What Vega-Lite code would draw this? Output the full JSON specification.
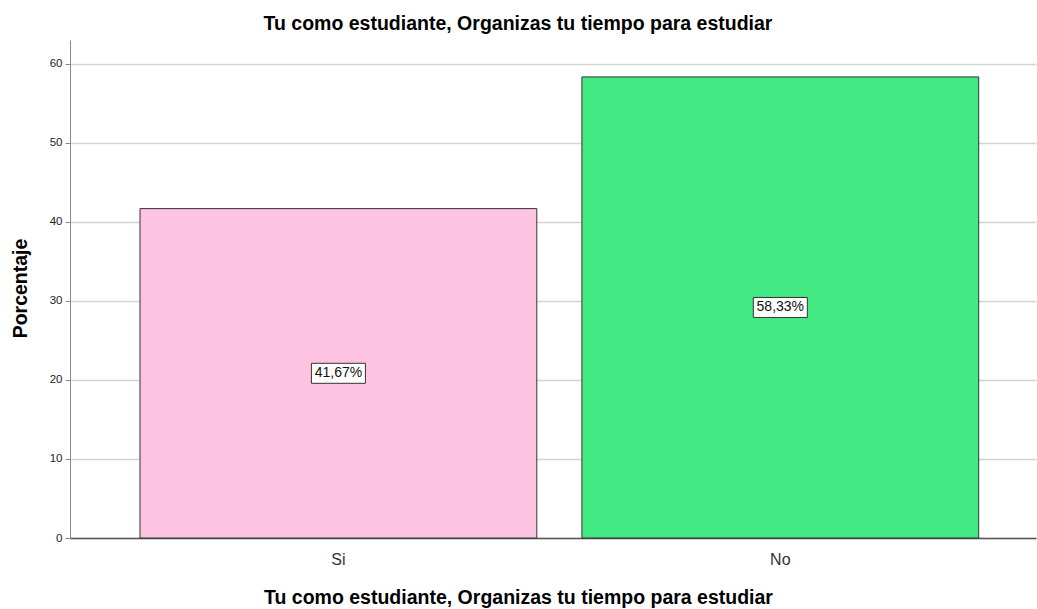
{
  "$schema": "https://vega.github.io/schema/vega-lite/v6.json",
  "width": 966,
  "height": 498,
  "autosize": "none",
  "padding": {"left": 70, "top": 40, "right": 1, "bottom": 71},
  "background": "white",
  "config": {"view": {"stroke": null}, "font": "Liberation Sans"},
  "title": {
    "text": "Tu como estudiante, Organizas tu tiempo para estudiar",
    "font": "Liberation Sans",
    "fontSize": 19.5,
    "fontWeight": "bold",
    "color": "#000000",
    "anchor": "middle",
    "dx": -35,
    "offset": 6
  },
  "data": {
    "values": [
      {"respuesta": "Si", "porcentaje": 41.67, "etiqueta": "41,67%"},
      {"respuesta": "No", "porcentaje": 58.33, "etiqueta": "58,33%"}
    ]
  },
  "encoding": {
    "x": {
      "field": "respuesta",
      "type": "nominal",
      "sort": ["Si", "No"],
      "scale": {"paddingInner": 0.102, "paddingOuter": 0.144, "align": 0.55},
      "axis": {
        "title": "Tu como estudiante, Organizas tu tiempo para estudiar",
        "titleFont": "Liberation Sans",
        "titleFontSize": 19.5,
        "titleFontWeight": "bold",
        "titleColor": "#000000",
        "titleX": 448,
        "titleY": 65,
        "titleAlign": "center",
        "titleBaseline": "alphabetic",
        "labelAngle": 0,
        "labelFont": "Liberation Sans",
        "labelFontSize": 16,
        "labelColor": "#333333",
        "labelPadding": 13,
        "ticks": false,
        "domainColor": "#555555",
        "domainWidth": 1.5,
        "grid": false
      }
    }
  },
  "layer": [
    {
      "mark": {"type": "bar", "stroke": "#333333", "strokeWidth": 1},
      "encoding": {
        "y": {
          "field": "porcentaje",
          "type": "quantitative",
          "scale": {"domain": [0, 63], "nice": false},
          "axis": {
            "title": "Porcentaje",
            "titleFont": "Liberation Sans",
            "titleFontSize": 19.5,
            "titleFontWeight": "bold",
            "titleColor": "#000000",
            "titleX": -50,
            "titleY": 248,
            "titleAngle": 270,
            "titleAlign": "center",
            "titleBaseline": "middle",
            "values": [0, 10, 20, 30, 40, 50, 60],
            "labelFont": "Liberation Sans",
            "labelFontSize": 11.5,
            "labelColor": "#222222",
            "labelPadding": 3,
            "tickSize": 5,
            "tickColor": "#888888",
            "domainColor": "#888888",
            "grid": true,
            "gridColor": "#d4d4d4",
            "gridWidth": 1.5
          }
        },
        "color": {
          "field": "respuesta",
          "type": "nominal",
          "scale": {"domain": ["Si", "No"], "range": ["#fdc3e1", "#42e882"]},
          "legend": null
        }
      }
    },
    {
      "transform": [{"calculate": "datum.porcentaje / 2", "as": "medio"}],
      "mark": {"type": "tick", "orient": "horizontal", "size": 54, "thickness": 20, "fill": "white", "stroke": "#333333", "strokeWidth": 1, "opacity": 1, "filled": true},
      "encoding": {
        "y": {"field": "medio", "type": "quantitative", "scale": {"domain": [0, 63], "nice": false}}
      }
    },
    {
      "transform": [{"calculate": "datum.porcentaje / 2", "as": "medio"}],
      "mark": {"type": "text", "font": "Liberation Sans", "fontSize": 14, "color": "#111111", "baseline": "middle", "align": "center"},
      "encoding": {
        "y": {"field": "medio", "type": "quantitative", "scale": {"domain": [0, 63], "nice": false}},
        "text": {"field": "etiqueta"}
      }
    }
  ]
}
